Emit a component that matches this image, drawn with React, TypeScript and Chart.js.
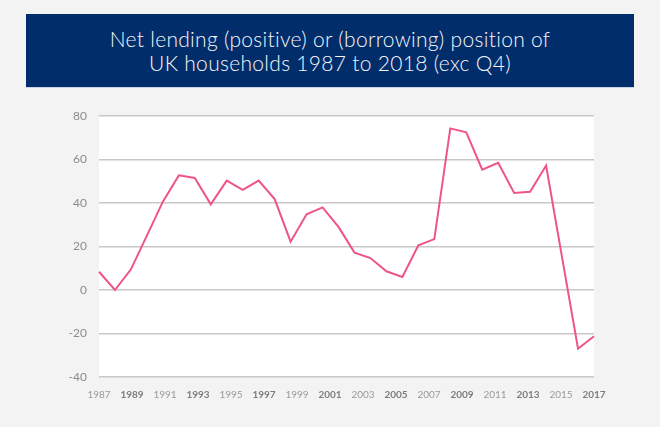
import React, { useEffect, useRef } from "react";
import { Chart, registerables } from "chart.js";

Chart.register(...registerables);

const years: string[] = [
  "1987", "1988", "1989", "1990", "1991", "1992", "1993", "1994", "1995", "1996",
  "1997", "1998", "1999", "2000", "2001", "2002", "2003", "2004", "2005", "2006",
  "2007", "2008", "2009", "2010", "2011", "2012", "2013", "2014", "2015", "2016",
  "2017", "2018",
];
const netLending: number[] = [
  8.4, 0, 9.5, 25, 40.6, 52.7, 51.5, 39.4, 50.3, 46,
  50.3, 41.8, 22.2, 34.8, 38, 29, 17.2, 14.7, 8.6, 6,
  20.5, 23.4, 74.3, 72.5, 55.3, 58.5, 44.6, 45.2, 57.2, 15,
  -27, -21.3,
];
const tickYears: string[] = [
  "1987", "1989", "1991", "1993", "1995", "1997", "1999", "2001",
  "2003", "2005", "2007", "2009", "2011", "2013", "2015", "2017",
];
const titleLines: string[] = [
  "Net lending (positive) or (borrowing) position of",
  "UK households 1987 to 2018 (exc Q4)",
];

const areaBg = {
  id: "areaBg",
  beforeDraw(chart: any) {
    const { ctx, chartArea } = chart;
    if (!chartArea) return;
    ctx.save();
    ctx.fillStyle = "#ffffff";
    ctx.fillRect(chartArea.left, chartArea.top, chartArea.right - chartArea.left, chartArea.bottom - chartArea.top);
    ctx.restore();
  },
};

export default function App() {
  const ref = useRef<HTMLCanvasElement | null>(null);

  useEffect(() => {
    document.body.style.margin = "0";
    const canvas = ref.current;
    if (!canvas) return;
    const chart = new Chart(canvas, {
      type: "line",
      data: {
        labels: years,
        datasets: [
          {
            data: netLending,
            borderColor: "#ee5586",
            borderWidth: 2,
            pointRadius: 0,
            tension: 0,
            fill: false,
            xAxisID: "x",
          },
        ],
      },
      options: {
        animation: false,
        responsive: false,
        devicePixelRatio: 1,
        layout: { padding: { left: 0, right: 66, top: 116, bottom: 20 } },
        plugins: { legend: { display: false }, tooltip: { enabled: false }, title: { display: false } },
        scales: {
          x: {
            type: "category",
            display: false,
            offset: false,
          },
          xt: {
            type: "category",
            position: "bottom",
            labels: tickYears,
            offset: false,
            grid: { display: false },
            border: { display: false },
            afterFit: (s: any) => {
              s.height = 30;
            },
            ticks: {
              autoSkip: false,
              maxRotation: 0,
              padding: 4,
              color: (ctx: any) => (ctx.index % 2 === 1 ? "#7d7d7d" : "#9a9a9a"),
              font: (ctx: any) => ({
                family: "Lato",
                size: 10,
                weight: ctx.index % 2 === 1 ? "bold" : "normal",
              }),
            },
          },
          y: {
            min: -40,
            max: 80,
            afterFit: (s: any) => {
              s.width = 99;
            },
            grid: { color: "#c8c8c8", lineWidth: 1.5, drawTicks: false },
            border: { display: false },
            ticks: {
              stepSize: 20,
              padding: 12,
              color: "#8c8c8c",
              font: { family: "Lato", size: 12 },
            },
          },
        },
      },
      plugins: [areaBg],
    } as any);
    return () => chart.destroy();
  }, []);

  return (
    <div style={{ position: "relative", width: 660, height: 427, background: "#f3f3f3", overflow: "hidden" }}>
      <canvas ref={ref} width={660} height={427} style={{ position: "absolute", left: 0, top: 0, width: 660, height: 427 }} />
      <div
        style={{
          position: "absolute",
          left: 26,
          top: 14,
          width: 608,
          height: 73,
          background: "#022d6b",
          borderBottom: "1px solid #c9d3e6",
          display: "flex",
          flexDirection: "column",
          justifyContent: "center",
          alignItems: "center",
          color: "#f4f6fa",
          fontFamily: "Lato",
          fontWeight: 300,
          fontSize: 21,
          letterSpacing: "0.3px",
          lineHeight: "24px",
        }}
      >
        {titleLines.map((t) => (
          <div key={t}>{t}</div>
        ))}
      </div>
    </div>
  );
}
